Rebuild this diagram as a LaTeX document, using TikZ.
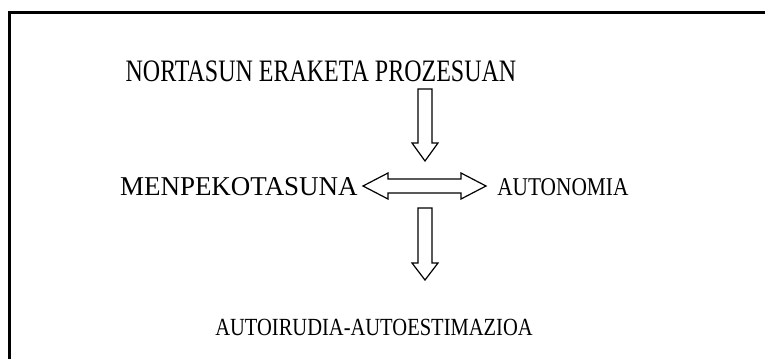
\documentclass[tikz,border=0pt]{standalone}
\usepackage{fontspec}
\setmainfont{Liberation Serif}
\usetikzlibrary{positioning}

\begin{document}
\begin{tikzpicture}[x=0.75pt,y=-0.75pt,
    label/.style={inner sep=0pt,yscale=1.2},
    blockarrow/.style={draw,line width=0.9pt,line join=miter}]

    % frame
    \useasboundingbox (0,0) rectangle (765,358);
    \begin{scope}
      \clip (0,0) rectangle (765,358);
      \draw[line width=2.25pt] (9.5,12.5) rectangle (800,400);
    \end{scope}

    % The texts
    \node [label,font=\fontsize{18}{20}\selectfont,yscale=1.3/1.2] at (321,71) (title) {NORTASUN ERAKETA PROZESUAN};
    \node [label,font=\fontsize{17}{18}\selectfont,anchor=east,xscale=1.19] at (358,187) (menpe) {MENPEKOTASUNA};
    \node [label,font=\fontsize{16}{18}\selectfont,anchor=west] at (497,187) (auto) {AUTONOMIA};
    \node [label,font=\fontsize{15.4}{18}\selectfont] at (374,327) (irudia) {AUTOIRUDIA-AUTOESTIMAZIOA};

    % arrow anchors
    \coordinate (down1) at (425,89);
    \coordinate (link) at (363,186);
    \coordinate (down2) at (425,208);

    % The arrows
    \draw[blockarrow] (down1) ++(-7,0) -- ++(14,0) -- ++(0,54) -- ++(6,0)
      -- ++(-13,18) -- ++(-13,-18) -- ++(6,0) -- cycle;
    \draw[blockarrow] (link) -- ++(25,-13) -- ++(0,6) -- ++(73,0) -- ++(0,-6)
      -- ++(25,13) -- ++(-25,13) -- ++(0,-6) -- ++(-73,0) -- ++(0,6) -- cycle;
    \draw[blockarrow] (down2) ++(-7,0) -- ++(14,0) -- ++(0,55) -- ++(6,0)
      -- ++(-13,17) -- ++(-13,-17) -- ++(6,0) -- cycle;

\end{tikzpicture}
\end{document}
